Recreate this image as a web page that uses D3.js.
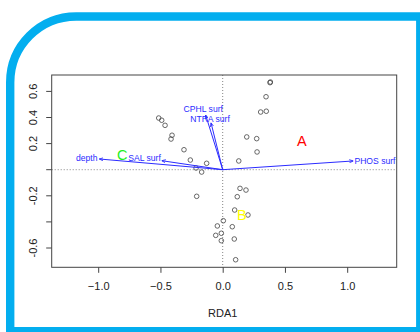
<!DOCTYPE html>
<html><head><meta charset="utf-8">
<script src="https://cdn.jsdelivr.net/npm/d3@7"></script>
<style>html,body{margin:0;padding:0;background:#fff;}svg{display:block;}</style>
</head><body>
<svg id="c" width="420" height="332"></svg>
<script>
// site scores (RDA1, RDA2)
const siteX = [0.380,0.383,0.348,0.305,0.350,0.193,0.273,0.276,0.129,-0.514,-0.490,-0.463,-0.407,-0.415,-0.311,-0.260,-0.129,-0.214,-0.169,0.139,0.187,0.117,-0.209,0.096,0.203,0.005,-0.043,0.077,-0.011,-0.056,-0.011,0.093,0.104];
const siteY = [0.667,0.672,0.559,0.442,0.448,0.251,0.238,0.136,0.067,0.396,0.379,0.340,0.264,0.235,0.153,0.074,0.049,0.013,-0.018,-0.143,-0.156,-0.207,-0.204,-0.309,-0.347,-0.391,-0.431,-0.437,-0.487,-0.503,-0.544,-0.531,-0.690];
// biplot arrows (environmental variables)
const envNames = ["PHOS surf","depth","SAL surf","CPHL surf","NTRA surf"];
const envX = [1.049,-0.991,-0.490,-0.137,-0.094];
const envY = [0.067,0.082,0.069,0.419,0.360];
const envLabX = [1.223,-1.092,-0.628,-0.156,-0.102];
const envLabY = [0.067,0.090,0.090,0.463,0.386];
// group letters
const groupNames = ["A","B","C"];
const groupX = [0.635,0.153,-0.806];
const groupY = [0.220,-0.347,0.113];
const groupColors = ["#ff0000","#ffff00","#22ee22"];
// ticks
const xTicks = [-1.0,-0.5,0.0,0.5,1.0];
const yTicks = [-0.6,-0.4,-0.2,0.0,0.2,0.4,0.6];
const yTickLabels = ["-0.6","","-0.2","","0.2","0.4","0.6"];

const svg = d3.select("#c");
const L = 51.7, R = 396.7, T = 75, B = 267.3;
const x = d3.scaleLinear().domain([(L-222.7)/124.5,(R-222.7)/124.5]).range([L,R]);
const y = d3.scaleLinear().domain([(169.7-B)/130.5,(169.7-T)/130.5]).range([B,T]);

const font = "'Liberation Sans', Arial, Helvetica, sans-serif";

// zero lines
svg.append("line").attr("x1",x(0)).attr("x2",x(0)).attr("y1",T).attr("y2",B)
  .attr("stroke","#666").attr("stroke-width",0.8).attr("stroke-dasharray","1,2");
svg.append("line").attr("x1",L).attr("x2",R).attr("y1",y(0)).attr("y2",y(0))
  .attr("stroke","#666").attr("stroke-width",0.8).attr("stroke-dasharray","1,2");

// points
svg.append("g").selectAll("circle").data(siteX.map((d,i)=>[d,siteY[i]])).join("circle")
  .attr("cx",d=>x(d[0])).attr("cy",d=>y(d[1])).attr("r",2.3)
  .attr("fill","none").attr("stroke","#444").attr("stroke-width",0.8);

// arrows
const defs = svg.append("defs");
defs.append("marker").attr("id","ah").attr("viewBox","0 0 10 10").attr("refX",10).attr("refY",5)
  .attr("markerWidth",4).attr("markerHeight",4).attr("orient","auto")
  .append("path").attr("d","M0,1 L10,5 L0,9").attr("fill","none").attr("stroke","#2b2bff").attr("stroke-width",2);
const ag = svg.append("g");
envNames.forEach((n,i)=>{
  ag.append("line").attr("x1",x(0)).attr("y1",y(0)).attr("x2",x(envX[i])).attr("y2",y(envY[i]))
    .attr("stroke","#2b2bff").attr("stroke-width",1).attr("marker-end","url(#ah)");
  ag.append("text").attr("x",x(envLabX[i])).attr("y",y(envLabY[i])).attr("dy","0.35em")
    .attr("text-anchor","middle").attr("font-family",font).attr("font-size",8.6)
    .attr("fill","#2b2bff").text(n);
});

// group letters
groupNames.forEach((n,i)=>{
  svg.append("text").attr("x",x(groupX[i])).attr("y",y(groupY[i])).attr("dy","0.36em")
    .attr("text-anchor","middle").attr("font-family",font).attr("font-size",14.5)
    .attr("fill",groupColors[i]).text(n);
});

// box
svg.append("rect").attr("x",L).attr("y",T).attr("width",R-L).attr("height",B-T)
  .attr("fill","none").attr("stroke","#444").attr("stroke-width",1);

// x axis
const xa = svg.append("g").attr("transform",`translate(0,${B})`)
  .call(d3.axisBottom(x).tickValues(xTicks).tickFormat(d3.format(".1f")).tickSize(5.5).tickPadding(9));
xa.select(".domain").remove();
xa.selectAll("line").attr("stroke","#444");
xa.selectAll("text").attr("font-family",font).attr("font-size",11).attr("fill","#222");

// y axis
const ya = svg.append("g").attr("transform",`translate(${L},0)`)
  .call(d3.axisLeft(y).tickValues(yTicks).tickFormat((d,i)=>yTickLabels[i]).tickSize(5.5));
ya.select(".domain").remove();
ya.selectAll("line").attr("stroke","#444");
ya.selectAll(".tick").each(function(d){
  const g = d3.select(this);
  g.attr("transform",null);
  g.select("line").attr("y1",y(d)).attr("y2",y(d));
  g.select("text").attr("x",null).attr("y",0).attr("dy","0.35em")
    .attr("text-anchor","middle").attr("font-family",font).attr("font-size",11).attr("fill","#222")
    .attr("transform",`translate(-19,${y(d)}) rotate(-90)`);
});

// x title
svg.append("text").attr("x",222.7).attr("y",313).attr("dy","0.35em").attr("text-anchor","middle")
  .attr("font-family",font).attr("font-size",11).attr("fill","#222").text("RDA1");

// frame
const fl = 10.2, ft = 16.5, fr = 420.3, fb = 331.2, rad = 66;
svg.append("path")
  .attr("d",`M${fl},${fb+10} L${fl},${ft+rad} A${rad},${rad} 0 0 1 ${fl+rad},${ft} L${fr+10},${ft} M${fr},${ft} L${fr},${fb} L${fl},${fb}`)
  .attr("fill","none").attr("stroke","#03aeef").attr("stroke-width",8.4);
</script>
</body></html>
